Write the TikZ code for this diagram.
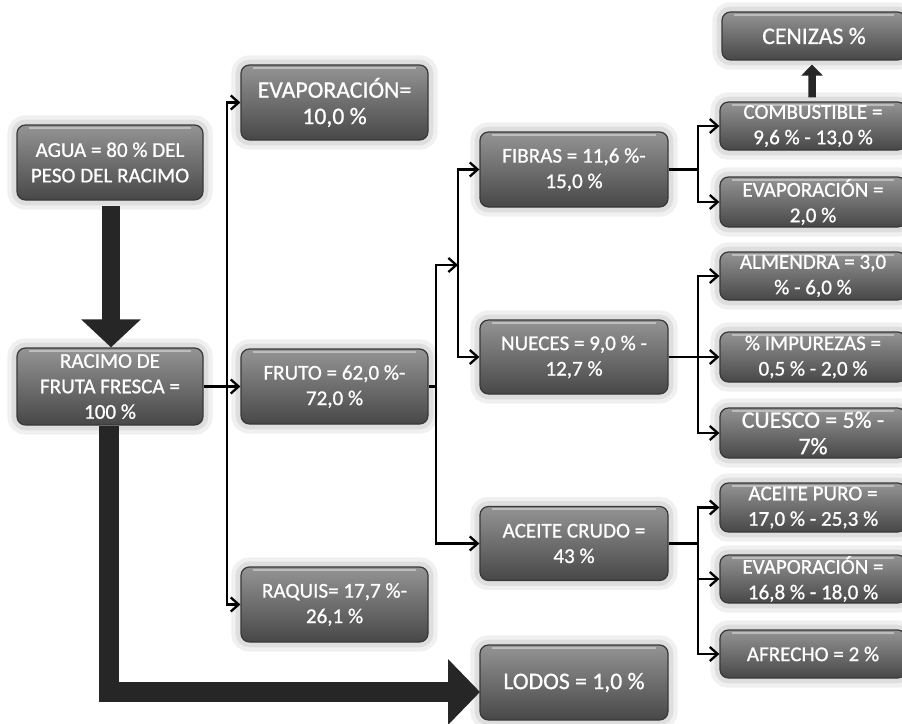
\documentclass[tikz,border=0pt]{standalone}
\usepackage{fontspec}
\setmainfont{Carlito}
\newfontfamily\boxfont{Carlito}[FakeBold=0.9]
\usetikzlibrary{arrows.meta}
\tikzset{
  box/.style={rectangle, rounded corners=0.17cm, draw=black!78, line width=0.7pt,
    top color=black!42, bottom color=black!72, text=white, align=center, inner sep=0pt,
    font=\boxfont\fontsize{12}{14.5}\selectfont,
    preaction={draw=black!6, line width=11pt},
    preaction={draw=black!13, line width=6pt},
    path picture={\draw[white,opacity=0.4,line width=1.3pt]
      ([xshift=7pt,yshift=-1.6pt]path picture bounding box.north west) --
      ([xshift=-7pt,yshift=-1.6pt]path picture bounding box.north east);}},
  wh/.style 2 args={minimum width=#1*0.02cm, minimum height=#2*0.02cm},
  big/.style={font=\boxfont\fontsize{13.5}{15}\selectfont},
  conn/.style={draw=black, line width=1.3pt, -{Straight Barb[length=4.5pt,width=8pt]}},
  plain/.style={draw=black, line width=1.3pt},
  fat/.style={draw=black!85, line width=#1, line join=miter},
}
\begin{document}
\begin{tikzpicture}[x=0.02cm,y=-0.02cm]
\useasboundingbox[fill=white] (0,0) rectangle (902,723);
\clip (0,0) rectangle (902,723);
% left column
\node[box,wh={186}{75}] (agua) at (110,162.5) {AGUA = 80 \% DEL\\PESO DEL RACIMO};
\node[box,wh={186}{77}] (racimo) at (110,386.5) {RACIMO DE\\FRUTA FRESCA =\\100 \%};
% second column
\node[box,big,wh={187}{75}] (evapa) at (334.5,102.5) {EVAPORACIÓN=\\10,0 \%};
\node[box,wh={187}{75}] (fruto) at (334.5,386.5) {FRUTO = 62,0 \%-\\72,0 \%};
\node[box,wh={187}{75}] (raquis) at (334.5,604.5) {RAQUIS= 17,7 \%-\\26,1 \%};
% third column
\node[box,wh={188}{75}] (fibras) at (574,169.5) {FIBRAS = 11,6 \%-\\15,0 \%};
\node[box,wh={188}{74}] (nueces) at (574,357) {NUECES = 9,0 \% -\\12,7 \%};
\node[box,wh={188}{74}] (aceite) at (574,543.5) {ACEITE CRUDO =\\43 \%};
\node[box,big,wh={188}{75}] (lodos) at (574,682.5) {LODOS = 1,0 \%};
% right column
\node[box,big,wh={184}{48}] (cenizas) at (814,36) {CENIZAS \%};
\node[box,wh={186}{48}] (combust) at (813,126) {COMBUSTIBLE =\\9,6 \% - 13,0 \%};
\node[box,wh={186}{50}] (evapb) at (813,202) {EVAPORACIÓN =\\2,0 \%};
\node[box,wh={186}{48}] (almendra) at (813,276) {ALMENDRA = 3,0\\\% - 6,0 \%};
\node[box,wh={186}{50}] (impurezas) at (813,357) {\% IMPUREZAS =\\0,5 \% - 2,0 \%};
\node[box,big,wh={186}{50}] (cuesco) at (813,433) {CUESCO = 5\% -\\7\%};
\node[box,wh={186}{49}] (apuro) at (813,507.5) {ACEITE PURO =\\17,0 \% - 25,3 \%};
\node[box,wh={186}{48}] (evapc) at (813,579) {EVAPORACIÓN =\\16,8 \% - 18,0 \%};
\node[box,wh={186}{48}] (afrecho) at (813,654) {AFRECHO = 2 \%};
% junctions
\coordinate (j1) at (227,386.5);
\coordinate (j2) at (436,386.5);
\coordinate (j3) at (458,265);
\coordinate (j4) at (698,169.5);
\coordinate (j5) at (698,357);
\coordinate (j6) at (698,543.5);
\coordinate (lodosin) at (480,692);
% thin connectors
\draw[conn] (racimo.east) -- (fruto.west);
\draw[conn] (j1) |- (evapa.west);
\draw[conn] (j1) |- (raquis.west);
\draw[plain] (fruto.east) -- (j2);
\draw[conn] (j2) |- (j3);
\draw[conn] (j2) |- (aceite.west);
\draw[conn] (j3) |- (fibras.west);
\draw[conn] (j3) |- (nueces.west);
\draw[plain] (fibras.east) -- (j4);
\draw[conn] (j4) |- (combust.west);
\draw[conn] (j4) |- (evapb.west);
\draw[conn] (nueces.east) -- (impurezas.west);
\draw[conn] (j5) |- (almendra.west);
\draw[conn] (j5) |- (cuesco.west);
\draw[plain] (aceite.east) -- (j6);
\draw[conn] (j6) |- (apuro.west);
\draw[conn] (j6) |- (evapc.west);
\draw[conn] (j6) |- (afrecho.west);
% fat arrows
\draw[fat=0.36cm, -{Triangle[width=1.16cm,length=0.56cm]}, shorten <=5*0.02cm] ([xshift=0.02cm]agua.south) -- ([xshift=0.02cm]racimo.north);
\draw[fat=0.4cm, -{Triangle[width=1.28cm,length=0.64cm]}] ([xshift=-0.03cm]racimo.south) |- (lodosin);
\draw[fat=0.15cm, -{Triangle[width=0.42cm,length=0.22cm]}, shorten <=4*0.02cm, shorten >=4*0.02cm] ([xshift=-0.02cm]combust.north) -- ([xshift=-0.04cm]cenizas.south);
\end{tikzpicture}
\end{document}
